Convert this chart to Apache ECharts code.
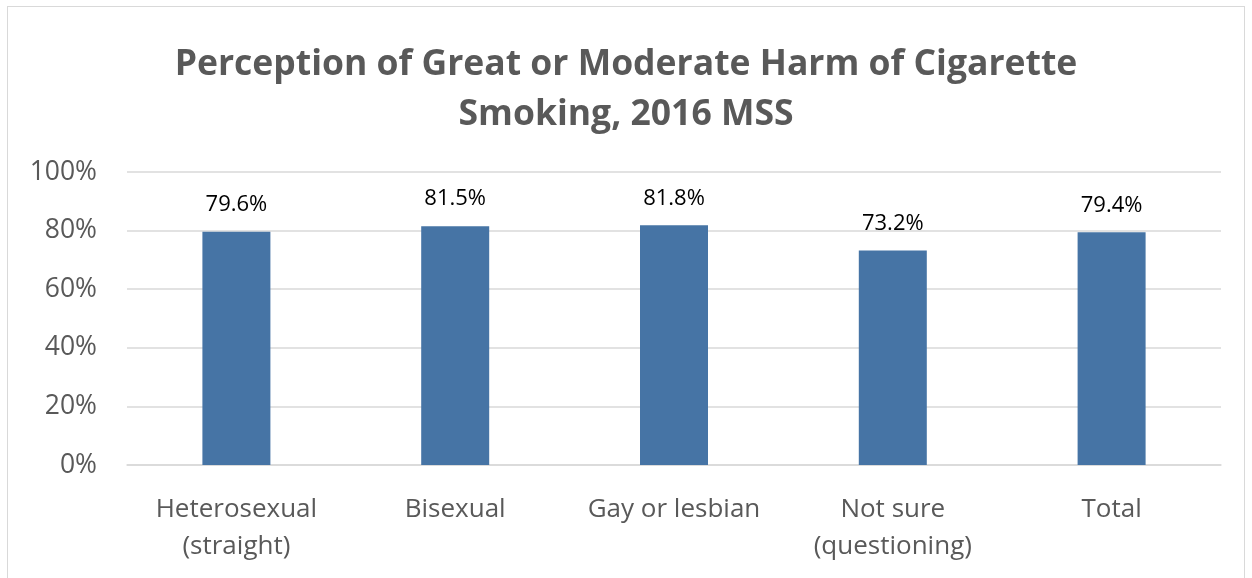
<!DOCTYPE html>
<html><head><meta charset="utf-8">
<script src="https://cdn.jsdelivr.net/npm/echarts@6/dist/echarts.min.js"></script>
<style>html,body{margin:0;padding:0;background:#fff}#c{width:1252px;height:578px}
#b{position:absolute;left:7px;top:6px;width:1238px;height:590px;border:1.5px solid #d9d9d9;box-sizing:border-box;pointer-events:none}</style>
</head><body><div id="c"></div><div id="b"></div>
<script>
const titleText = 'Perception of Great or Moderate Harm of Cigarette\nSmoking, 2016 MSS';
const categories = ['Heterosexual\n(straight)', 'Bisexual', 'Gay or lesbian', 'Not sure\n(questioning)', 'Total'];
const values = [79.6, 81.5, 81.8, 73.2, 79.4];
const yTicks = [0, 20, 40, 60, 80, 100];

const chart = echarts.init(document.getElementById('c'));
chart.setOption({
  animation: false,
  title: {
    text: titleText, left: 'center', top: 35,
    textStyle: {fontFamily: 'Open Sans', fontSize: 35.5, fontWeight: 'bold', color: '#595959', lineHeight: 50}
  },
  grid: {left: 127, right: 31, top: 172, bottom: 113},
  xAxis: {
    type: 'category', data: categories,
    axisLine: {lineStyle: {color: '#d9d9d9', width: 1.5}},
    axisTick: {show: false},
    axisLabel: {color: '#595959', fontFamily: 'Open Sans', fontSize: 26, margin: 26, lineHeight: 37, interval: 0}
  },
  yAxis: {
    type: 'value', min: 0, max: 100, interval: 20,
    axisLine: {show: false}, axisTick: {show: false},
    splitLine: {lineStyle: {color: '#d9d9d9', width: 1.5}},
    axisLabel: {color: '#595959', fontFamily: 'Open Sans', fontSize: 26.5, margin: 30, padding: [8, 0, 0, 0],
      formatter: v => yTicks.includes(v) ? v + '%' : ''}
  },
  series: [{
    type: 'bar', data: values, barWidth: 68,
    itemStyle: {color: '#4674a5'},
    label: {show: true, position: 'top', distance: 16, color: '#000', fontFamily: 'Open Sans', fontSize: 22,
      formatter: p => p.value.toFixed(1) + '%'}
  }]
});
</script></body></html>
